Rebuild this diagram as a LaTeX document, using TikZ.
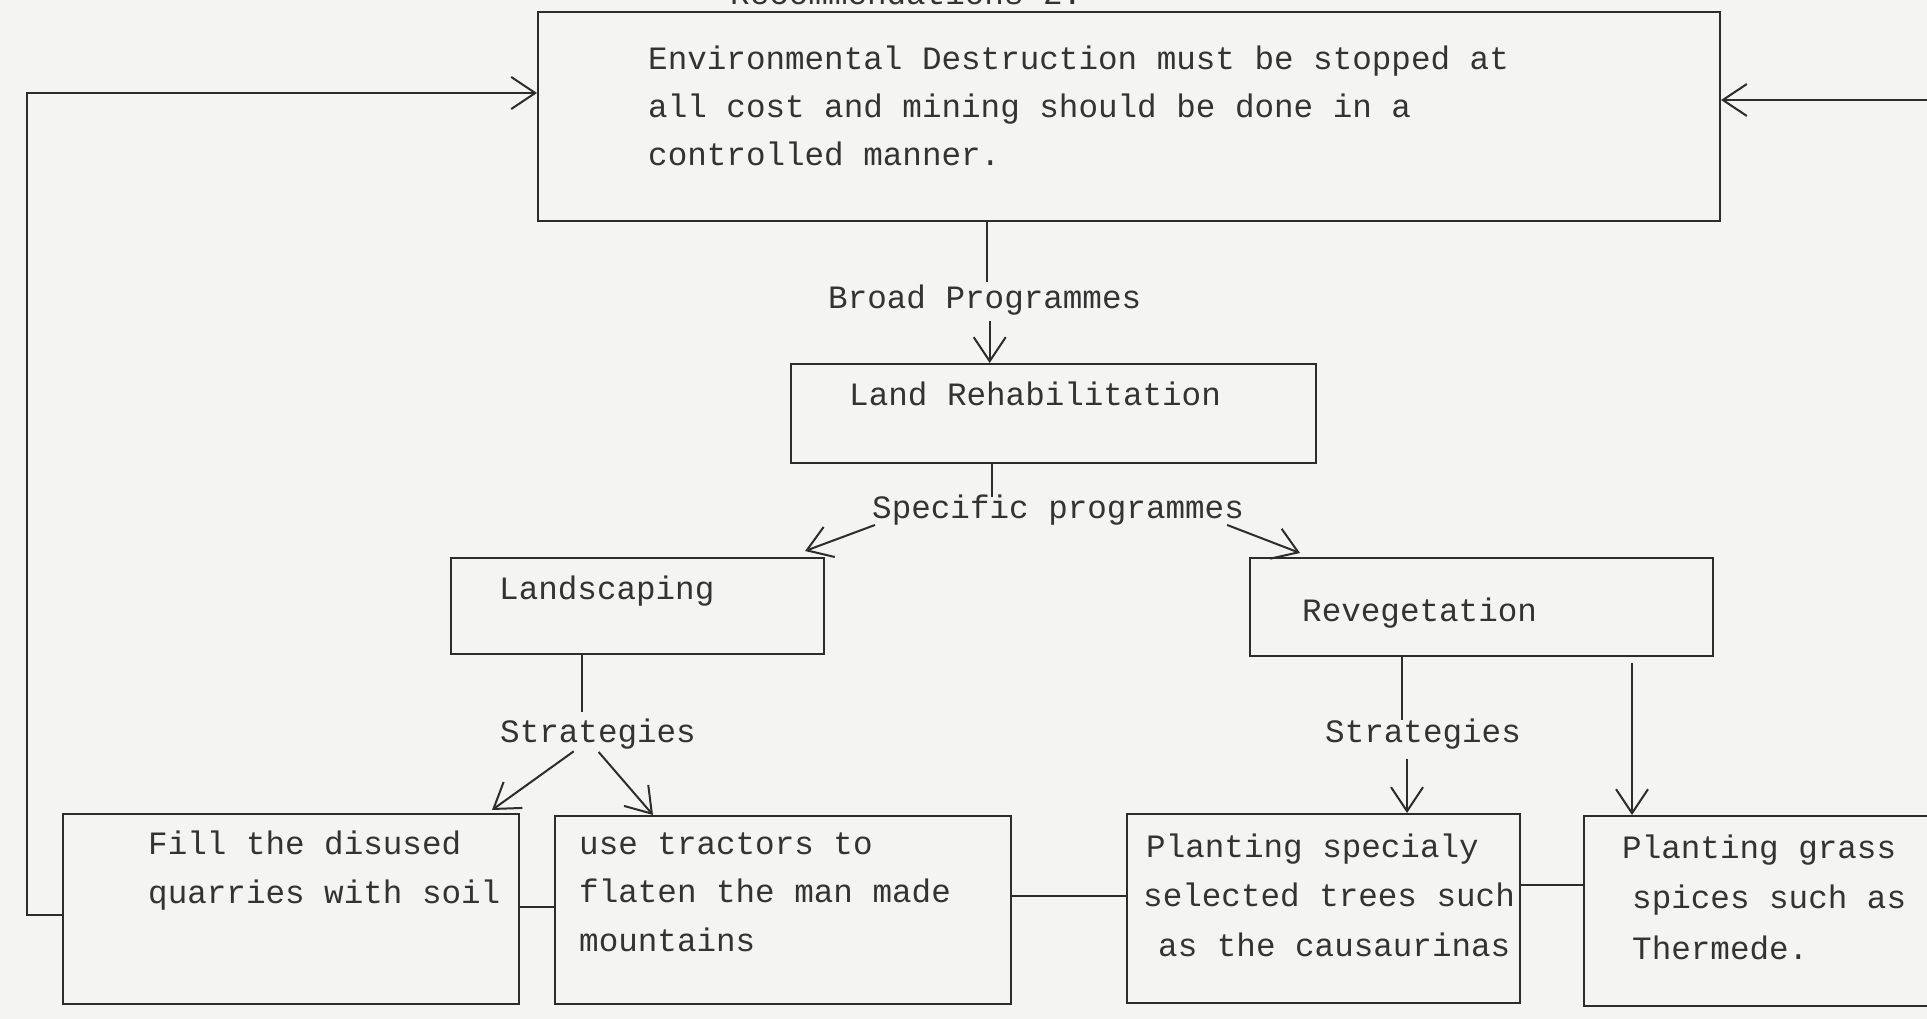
\documentclass[tikz,border=0pt]{standalone}
\usepackage{fontspec}
\setmainfont{Liberation Mono}
\usetikzlibrary{arrows.meta}
\definecolor{ink}{HTML}{333333}
\definecolor{rule}{HTML}{2C2C2C}
\definecolor{paper}{HTML}{F4F4F2}
\newcommand\tlines[1]{\begin{tabular}[t]{@{}l@{}}#1\end{tabular}}
\begin{document}
\begin{tikzpicture}[x=1pt,y=-1pt,
  every node/.style={inner sep=0pt, text=ink, font=\fontsize{32.6}{49}\selectfont},
  txt/.style={anchor=base west},
  box/.style={draw=rule, line width=2pt, rectangle, anchor=north west, inner sep=0pt},
  conn/.style={draw=rule, line width=2pt},
  arr/.style={conn, -{Straight Barb[length=24pt,width=32pt,line width=2pt]}}]
\fill[paper] (0,0) rectangle (1927,1019);
\useasboundingbox (0,0) rectangle (1927,1019);

% boxes
\node[box, minimum width=1182pt, minimum height=209pt] (rec) at (537,11) {};
\node[box, minimum width=525pt, minimum height=99pt] (land) at (790,363) {};
\node[box, minimum width=373pt, minimum height=96pt] (landsc) at (450,557) {};
\node[box, minimum width=463pt, minimum height=98pt] (reveg) at (1249,557) {};
\node[box, minimum width=456pt, minimum height=190pt] (fill) at (62,813) {};
\node[box, minimum width=456pt, minimum height=188pt] (tract) at (554,815) {};
\node[box, minimum width=393pt, minimum height=189pt] (trees) at (1126,813) {};
\node[box, minimum width=362pt, minimum height=190pt] (grass) at (1583,815) {};

% texts
\node[txt] (recom) at (730,5) {Recommendations 2.};
\node[txt, font=\fontsize{32.6}{48}\selectfont] (rectxt) at (648,70)
  {\tlines{Environmental Destruction must be stopped at\\all cost and mining should be done in a\\controlled manner.}};
\node[txt] (broad) at (828,308) {Broad Programmes};
\node[txt] (landtxt) at (849,405) {Land Rehabilitation};
\node[txt] (spec) at (872,518) {Specific programmes};
\node[txt] (landsctxt) at (499,599) {Landscaping};
\node[txt] (revegtxt) at (1302,621) {Revegetation};
\node[txt] (strat1) at (500,742) {Strategies};
\node[txt] (strat2) at (1325,742) {Strategies};
\node[txt] (filltxt) at (148,854) {\tlines{Fill the disused\\quarries with soil}};
\node[txt, font=\fontsize{32.6}{48.5}\selectfont] (tracttxt) at (579,854)
  {\tlines{use tractors to\\flaten the man made\\mountains}};
\node[txt, font=\fontsize{32.6}{49.5}\selectfont] (treestxt) at (1146,857)
  {\tlines{Planting specialy\\\hspace*{-3pt}selected trees such\\\hspace*{12pt}as the causaurinas}};
\node[txt, font=\fontsize{32.6}{50.5}\selectfont] (grasstxt) at (1622,858)
  {\tlines{Planting grass\\\hspace*{10pt}spices such as\\\hspace*{10pt}Thermede.}};

% feedback loops
\coordinate (fbB) at (27,915);
\coordinate (fbT) at (27,93);
\coordinate (rin) at (1930,100);
\draw[arr] (fill.west |- fbB) -- (fbB) -- (fbT) -- (rec.west |- fbT);
\draw[arr] (rin) -- (rec.east |- rin);

% main flow
\draw[conn] ([xshift=2pt]rec.south -| broad.north) -- ([xshift=2pt,yshift=2pt]broad.north);
\draw[arr, shorten <=6pt] ([xshift=5pt]broad.south) -- ([xshift=5pt]broad.south |- land.north);
\coordinate (lsp) at (992,497);
\draw[conn] (land.south -| lsp) -- (lsp);
\draw[arr] ([xshift=3pt]spec.south west) -- ([xshift=-20pt,yshift=6pt]landsc.north east);
\draw[arr] ([xshift=-17pt]spec.south east) -- ([xshift=51pt,yshift=4pt]reveg.north west);

\coordinate (l1) at (582,712);
\draw[conn] (landsc.south -| l1) -- (l1);
\draw[arr, shorten <=4pt] ([xshift=-21pt]strat1.south) -- ([xshift=-28pt,yshift=3pt]fill.north east);
\draw[arr, shorten <=4pt] ([xshift=-2pt]strat1.south) -- ([xshift=99pt]tract.north west);

\coordinate (r1) at (1402,720);
\draw[conn] (reveg.south -| r1) -- (r1);
\draw[arr, shorten <=10pt] ([xshift=-16pt]strat2.south) -- ([xshift=-16pt]strat2.south |- trees.north);
\coordinate (g1) at (1632,663);
\draw[arr] (g1) -- (g1 |- grass.north);

% side links
\coordinate (h1) at (0,907);
\coordinate (h2) at (0,896);
\coordinate (h3) at (0,885);
\draw[conn] (fill.east |- h1) -- (tract.west |- h1);
\draw[conn] (tract.east |- h2) -- (trees.west |- h2);
\draw[conn] (trees.east |- h3) -- (grass.west |- h3);
\end{tikzpicture}
\end{document}
